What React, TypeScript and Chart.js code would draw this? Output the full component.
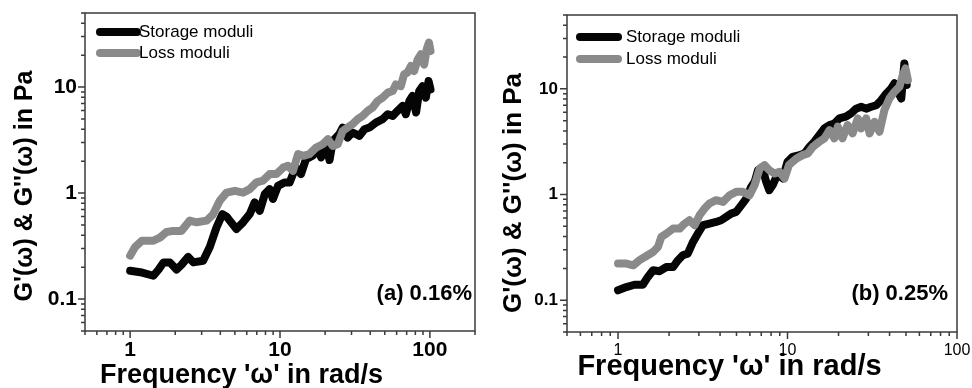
import React, { useEffect, useRef } from "react";
import { Chart, registerables } from "chart.js";

Chart.register(...registerables);

const FONT = "'Liberation Sans', Arial, Helvetica, sans-serif";

// ---------- Data: panel (a) 0.16% ----------
const aStorageFreq = [1, 1.2, 1.43, 1.55, 1.67, 1.84, 2.04, 2.2, 2.44, 2.64, 3.07, 3.4, 3.77, 4.13, 4.4, 4.62, 5.12, 5.67, 6.28, 6.78, 7.33, 7.92, 8.53, 8.97, 9.7, 10.7, 11.6, 12.2, 12.8, 13.8, 14.9, 16.5, 17.9, 18.8, 20.4, 21.4, 22.5, 24.9, 26.2, 28.2, 30.5, 33.9, 36.6, 39.5, 43.6, 48.4, 52.4, 56.5, 60.9, 65.8, 69.1, 73, 76.6, 80.9, 84.9, 89.3, 94, 98, 101];
const aStorageG = [0.185, 0.178, 0.166, 0.19, 0.222, 0.222, 0.19, 0.21, 0.25, 0.222, 0.23, 0.31, 0.475, 0.634, 0.6, 0.55, 0.458, 0.53, 0.634, 0.817, 0.68, 0.98, 1.09, 0.88, 1.17, 1.26, 1.26, 1.51, 1.74, 1.51, 2.09, 2.25, 2.6, 2.17, 2.79, 2.05, 3.1, 3.6, 4.15, 3.34, 3.73, 3.47, 4.0, 4.15, 4.63, 4.98, 5.55, 5.35, 5.97, 6.65, 5.55, 7.4, 8.26, 5.76, 9.2, 10.2, 7.96, 11.4, 9.5];
const aLossFreq = [1, 1.08, 1.2, 1.43, 1.58, 1.75, 1.94, 2.2, 2.5, 2.78, 3.24, 3.58, 3.97, 4.4, 5.0, 5.67, 6.28, 6.96, 7.7, 8.53, 9.45, 10.5, 11.3, 12.2, 13.2, 14.3, 15.7, 17.4, 19.3, 20.9, 22.5, 24.3, 26.2, 28.2, 30.5, 33.0, 35.6, 38.5, 41.5, 44.8, 48.4, 52.4, 56.5, 59.3, 64, 67.3, 70.8, 74.7, 78.5, 83, 87.1, 91.6, 95.3, 98.6, 101];
const aLossG = [0.257, 0.31, 0.356, 0.356, 0.38, 0.43, 0.44, 0.44, 0.55, 0.53, 0.55, 0.63, 0.85, 1.01, 1.05, 1.01, 1.09, 1.26, 1.31, 1.51, 1.51, 1.74, 1.81, 1.62, 2.33, 2.25, 2.33, 2.69, 2.89, 3.22, 2.79, 2.89, 3.86, 4.15, 4.47, 4.98, 5.35, 5.97, 6.42, 7.4, 7.96, 8.87, 9.2, 10.6, 10.2, 13.2, 13.7, 15.8, 14.2, 18.3, 20.4, 16.3, 22.8, 26.3, 21.9];

// ---------- Data: panel (b) 0.25% ----------
const bStorageFreq = [1, 1.12, 1.25, 1.4, 1.5, 1.61, 1.76, 1.93, 2.11, 2.26, 2.41, 2.58, 2.77, 2.96, 3.17, 3.46, 3.79, 4.06, 4.35, 4.65, 4.98, 5.33, 5.71, 6.1, 6.4, 6.7, 7.16, 7.43, 7.8, 8.18, 8.76, 9.38, 10, 10.7, 11.8, 12.6, 13.5, 14.4, 15.4, 16.5, 17.7, 18.9, 20.2, 22.1, 23.7, 25.4, 27.2, 29.1, 31.2, 33.4, 35.7, 38.2, 40.9, 42.8, 44.8, 46.9, 48.9, 50.5];
const bStorageG = [0.124, 0.133, 0.14, 0.14, 0.166, 0.192, 0.188, 0.206, 0.206, 0.239, 0.266, 0.276, 0.356, 0.427, 0.512, 0.53, 0.55, 0.571, 0.614, 0.66, 0.685, 0.79, 0.916, 1.18, 1.32, 1.7, 1.76, 1.37, 1.1, 1.23, 1.58, 1.42, 2.04, 2.27, 2.36, 2.45, 2.83, 3.16, 3.65, 4.22, 4.54, 4.7, 5.25, 5.45, 5.86, 6.5, 6.77, 6.5, 6.77, 7.0, 7.8, 9.0, 10.1, 11.3, 9.4, 8.1, 17.4, 10.9];
const bLossFreq = [1, 1.12, 1.23, 1.34, 1.47, 1.61, 1.72, 1.8, 1.93, 2.11, 2.31, 2.47, 2.64, 2.83, 3.03, 3.24, 3.46, 3.79, 4.16, 4.55, 4.98, 5.45, 5.97, 6.4, 6.85, 7.33, 7.8, 8.4, 8.98, 9.6, 10.2, 11.3, 12.3, 13.2, 14.1, 15.4, 16.5, 17.7, 18.9, 19.8, 21.1, 22.6, 24.2, 26.0, 27.2, 29.1, 30.5, 32.6, 34.9, 37.3, 39.9, 42.8, 45.8, 47.9, 49.7, 51.3];
const bLossG = [0.222, 0.222, 0.214, 0.239, 0.262, 0.286, 0.319, 0.397, 0.427, 0.476, 0.476, 0.53, 0.571, 0.512, 0.637, 0.737, 0.822, 0.884, 0.852, 0.985, 1.06, 1.06, 0.985, 1.23, 1.76, 1.9, 1.7, 1.58, 1.64, 1.42, 1.9, 2.19, 2.36, 2.45, 2.83, 3.16, 3.4, 4.07, 3.4, 4.39, 3.4, 4.54, 3.79, 5.25, 4.22, 5.25, 3.79, 4.88, 3.93, 6.3, 8.1, 9.4, 10.5, 13.5, 15.6, 12.1];

// ---------- Labels & ticks ----------
const seriesLabels = ["Storage moduli", "Loss moduli"];
const xTitle = "Frequency '\u03c9' in rad/s";
const yTitle = "G'(\u03c9) & G''(\u03c9) in Pa";
const aTag = "(a) 0.16%";
const bTag = "(b) 0.25%";
const xTicksA = [0.5, 0.6, 0.7, 0.8, 0.9, 1, 2, 3, 4, 5, 6, 7, 8, 9, 10, 20, 30, 40, 50, 60, 70, 80, 90, 100, 200];
const xTicksB = [0.5, 0.6, 0.7, 0.8, 0.9, 1, 2, 3, 4, 5, 6, 7, 8, 9, 10, 20, 30, 40, 50, 60, 70, 80, 90, 100];
const xLabelValues = [1, 10, 100];
const yTicks = [0.05, 0.06, 0.07, 0.08, 0.09, 0.1, 0.2, 0.3, 0.4, 0.5, 0.6, 0.7, 0.8, 0.9, 1, 2, 3, 4, 5, 6, 7, 8, 9, 10, 20, 30, 40, 50];
const yLabelValues = [0.1, 1, 10];

type Panel = any;

const panelA: Panel = {
  W: 486, H: 388, left: 85, right: 475, top: 13, bottom: 331,
  xMax: 200, xTicks: xTicksA,
  sx: aStorageFreq, sy: aStorageG, lx: aLossFreq, ly: aLossG,
  xTickFont: { family: FONT, size: 21, weight: "bold" }, xTickPad: 7,
  yTickFont: { family: FONT, size: 21, weight: "bold" }, yTickPad: 8,
  xTitle: { size: 27, cx: 241.5, base: 383 },
  yTitle: { size: 25, cx: 25, cy: 186 },
  legend: { x0: 100, x1: 137, tx: 139, rows: [32, 53], size: 17 },
  tag: { text: aTag, x: 472, y: 294, size: 22 },
};

const panelB: Panel = {
  W: 486, H: 388, left: 81, right: 471, top: 15, bottom: 332,
  xMax: 100, xTicks: xTicksB,
  sx: bStorageFreq, sy: bStorageG, lx: bLossFreq, ly: bLossG,
  xTickFont: { family: FONT, size: 16, weight: "normal" }, xTickPad: 9,
  yTickFont: { family: FONT, size: 17, weight: "bold" }, yTickPad: 9,
  xTitle: { size: 29, cx: 243.5, base: 375 },
  yTitle: { size: 26, cx: 28, cy: 193 },
  legend: { x0: 94, x1: 132, tx: 140, rows: [37, 59], size: 17 },
  tag: { text: bTag, x: 462, y: 294, size: 22 },
};

function decorPlugin(p: Panel) {
  return {
    id: "decor",
    afterDraw(chart: any) {
      const { ctx, chartArea: a } = chart;
      const xs = chart.scales.x;
      const ys = chart.scales.y;
      ctx.save();
      ctx.strokeStyle = "#3a3a3a";
      ctx.lineWidth = 1.5;
      ctx.strokeRect(a.left, a.top, a.right - a.left, a.bottom - a.top);
      ctx.beginPath();
      p.xTicks.forEach((v: number) => {
        const px = xs.getPixelForValue(v);
        const len = xLabelValues.includes(v) ? 7 : 4;
        ctx.moveTo(px, a.bottom);
        ctx.lineTo(px, a.bottom + len);
      });
      yTicks.forEach((v: number) => {
        const py = ys.getPixelForValue(v);
        const len = yLabelValues.includes(v) ? 7 : 4;
        ctx.moveTo(a.left, py);
        ctx.lineTo(a.left - len, py);
      });
      ctx.stroke();

      // legend
      const lg = p.legend;
      chart.data.datasets.forEach((ds: any, i: number) => {
        const y = lg.rows[i];
        ctx.beginPath();
        ctx.strokeStyle = ds.borderColor;
        ctx.lineWidth = 8;
        ctx.lineCap = "round";
        ctx.moveTo(lg.x0, y);
        ctx.lineTo(lg.x1, y);
        ctx.stroke();
        ctx.fillStyle = "#000";
        ctx.font = `${lg.size}px ${FONT}`;
        ctx.textAlign = "left";
        ctx.textBaseline = "middle";
        ctx.fillText(ds.label, lg.tx, y);
      });

      // panel tag
      ctx.fillStyle = "#000";
      ctx.font = `bold ${p.tag.size}px ${FONT}`;
      ctx.textAlign = "right";
      ctx.textBaseline = "middle";
      ctx.fillText(p.tag.text, p.tag.x, p.tag.y);

      // axis titles
      ctx.font = `bold ${p.xTitle.size}px ${FONT}`;
      ctx.textAlign = "center";
      ctx.textBaseline = "alphabetic";
      ctx.fillText(xTitle, p.xTitle.cx, p.xTitle.base);

      ctx.save();
      ctx.translate(p.yTitle.cx, p.yTitle.cy);
      ctx.rotate(-Math.PI / 2);
      ctx.font = `bold ${p.yTitle.size}px ${FONT}`;
      ctx.textAlign = "center";
      ctx.textBaseline = "middle";
      ctx.fillText(yTitle, 0, 0);
      ctx.restore();

      ctx.restore();
    },
  };
}

function makeChart(canvas: HTMLCanvasElement, p: Panel) {
  const pts = (xs: number[], ys: number[]) => xs.map((x, i) => ({ x, y: ys[i] }));
  return new Chart(canvas, {
    type: "line",
    data: {
      datasets: [
        { label: seriesLabels[0], data: pts(p.sx, p.sy), borderColor: "#050505", backgroundColor: "#050505", borderWidth: 8, order: 2 },
        { label: seriesLabels[1], data: pts(p.lx, p.ly), borderColor: "#8a8a8a", backgroundColor: "#8a8a8a", borderWidth: 8, order: 1 },
      ],
    },
    options: {
      responsive: false,
      animation: false,
      parsing: false,
      layout: { padding: { left: 0, top: p.top, right: p.W - p.right, bottom: 0 } },
      elements: {
        point: { radius: 0, hoverRadius: 0 },
        line: { tension: 0, borderCapStyle: "round", borderJoinStyle: "round", fill: false },
      },
      plugins: { legend: { display: false }, tooltip: { enabled: false } },
      scales: {
        x: {
          type: "logarithmic",
          position: "bottom",
          min: 0.5,
          max: p.xMax,
          afterBuildTicks: (s: any) => { s.ticks = p.xTicks.map((v: number) => ({ value: v })); },
          afterFit: (s: any) => { s.height = p.H - p.bottom; s.paddingLeft = 0; s.paddingRight = 0; },
          grid: { display: false, drawTicks: false },
          border: { display: false },
          ticks: {
            autoSkip: false, maxRotation: 0, minRotation: 0,
            padding: p.xTickPad, color: "#000", font: p.xTickFont,
            callback: (v: any) => (xLabelValues.includes(v) ? String(v) : ""),
          },
          title: { display: false, text: xTitle },
        },
        y: {
          type: "logarithmic",
          position: "left",
          min: 0.05,
          max: 50,
          afterBuildTicks: (s: any) => { s.ticks = yTicks.map((v: number) => ({ value: v })); },
          afterFit: (s: any) => { s.width = p.left; s.paddingTop = 0; s.paddingBottom = 0; },
          grid: { display: false, drawTicks: false },
          border: { display: false },
          ticks: {
            autoSkip: false,
            padding: p.yTickPad, color: "#000", font: p.yTickFont,
            callback: (v: any) => (yLabelValues.includes(v) ? String(v) : ""),
          },
          title: { display: false, text: yTitle },
        },
      },
    } as any,
    plugins: [decorPlugin(p)],
  });
}

function PanelChart({ p, left }: { p: Panel; left: number }) {
  const ref = useRef<HTMLCanvasElement>(null);
  useEffect(() => {
    if (!ref.current) return;
    const c = makeChart(ref.current, p);
    return () => c.destroy();
  }, [p]);
  return (
    <canvas
      ref={ref}
      width={p.W}
      height={p.H}
      style={{ position: "absolute", left, top: 0, width: p.W, height: p.H, display: "block" }}
    />
  );
}

export default function App() {
  return (
    <div style={{ position: "fixed", left: 0, top: 0, width: 972, height: 388, background: "#fff", overflow: "hidden" }}>
      <PanelChart p={panelA} left={0} />
      <PanelChart p={panelB} left={486} />
    </div>
  );
}
